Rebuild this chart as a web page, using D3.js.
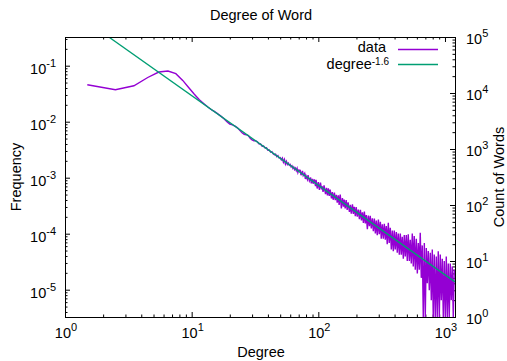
<!DOCTYPE html>
<html>
<head>
<meta charset="utf-8">
<script src="https://cdnjs.cloudflare.com/ajax/libs/d3/7.8.5/d3.min.js"></script>
<style>
  body { margin: 0; background: #fff; }
  svg { display: block; font-family: "Liberation Sans", Arial, sans-serif; }
</style>
</head>
<body>
<div id="chart"></div>
<script>
// word count that corresponds to frequency 1 (left axis = right axis / total)
const TOTAL_WORDS = 307250;
// fitted power law: frequency = FIT_COEF * degree ^ FIT_POW
const FIT_COEF = 1.164;
const FIT_POW = -1.6;

const headDegree = [1.5, 2.5, 3.5, 4.5, 5.5, 6.5, 7.5, 8.5, 9.5, 10.5, 11.5, 12.5, 13.5, 14.5,
  15, 16, 17, 18, 19, 20, 21, 22, 23, 24, 25, 26, 27, 28, 29, 30, 31, 32, 33, 34,
  35, 36, 37, 38, 39, 40, 41, 42, 43, 44, 45, 46, 47, 48, 49, 50, 51, 52, 53, 54,
  55, 56, 57, 58, 59, 60, 61, 62, 63, 64, 65, 66, 67, 68, 69, 70];
const headCount = [14060, 11460, 13480, 18920, 23710, 24720, 22130, 16790, 12390, 9520, 7590, 6440, 5570, 4930,
  4750, 4290, 3860, 3460, 3080, 2780, 2700, 2560, 2390, 2150, 1950, 1830, 1800, 1740, 1560, 1450, 1400, 1410, 1350, 1240,
  1230, 1120, 1130, 1040, 1050, 950, 960, 880, 900, 820, 790, 810, 730, 760, 690, 700, 640, 690, 580, 650,
  540, 600, 530, 560, 510, 530, 480, 500, 450, 475, 430, 455, 410, 450, 380, 420];

// noisy tail, highs and lows read column by column
const tailDegree = [72, 73, 75, 76, 78, 79, 80, 82, 83, 85, 87, 88, 90, 91, 93,
  95, 96, 98, 100, 102, 104, 106, 107, 109, 111, 114, 116, 118, 120, 122,
  124, 127, 129, 131, 134, 136, 139, 141, 144, 146, 149, 152, 155, 158, 160,
  163, 166, 169, 172, 176, 179, 182, 186, 189, 192, 196, 199, 203, 207, 211,
  215, 219, 223, 227, 231, 235, 239, 244, 248, 253, 257, 262, 267, 272, 277,
  282, 287, 292, 298, 303, 309, 314, 320, 326, 332, 338, 344, 350, 357, 363,
  370, 377, 384, 391, 398, 405, 413, 420, 428, 436, 444, 452, 460, 469, 477, 486, 495, 504, 513, 523,
  532, 542, 552, 562, 572, 583, 594, 605, 616, 627, 638, 650, 662, 674, 687,
  699, 712, 725, 738, 752, 766, 780, 794, 808, 823, 838, 854, 869, 885, 902,
  918, 935, 952, 970, 987, 1006, 1024, 1043, 1062, 1081, 1101, 1121, 1142, 1163, 1184];
const tailCount = [414, 341, 406, 335, 368, 291, 333, 286, 341, 270, 309, 244, 292, 240, 287,
  218, 282, 197, 256, 186, 251, 190, 218, 172, 224, 157, 203, 148, 199, 145,
  188, 131, 170, 124, 167, 122, 152, 110, 149, 100, 153, 87, 133, 93, 125,
  87, 123, 82, 111, 75, 101, 70, 103, 69, 93, 63, 92, 62, 83, 56,
  82, 53, 74, 48, 76, 47, 66, 37, 65, 42, 64, 38, 58, 34, 57,
  31, 53, 29, 55, 30, 50, 25, 45, 25, 46, 24, 42, 20, 48, 21,
  39, 16, 35, 15, 35, 16, 33, 14, 31, 13, 31, 13, 27, 11, 29, 12, 29, 10, 30, 10,
  24, 9, 31, 8, 28, 7, 25, 6, 21, 7, 32, 5, 19, 1, 21,
  1, 17, 4, 15, 3, 14, 2, 16, 1, 13, 1, 12, 1, 15, 1,
  13, 2, 11, 1, 10, 1, 12, 1, 9, 1, 9, 2, 8, 1, 7];

const xTickValues = [1, 10, 100, 1000];
const yTickValues = [1e-1, 1e-2, 1e-3, 1e-4, 1e-5];
const y2TickValues = [1, 10, 100, 1000, 10000, 100000];

const width = 507, height = 361;
const margin = { top: 37, right: 52, bottom: 44, left: 65 };
const plotLeft = margin.left, plotRight = width - margin.right;
const plotTop = margin.top, plotBottom = height - margin.bottom;
const FONT = 14.5, SUP = 11;

const svg = d3.select('#chart').append('svg')
  .attr('width', width)
  .attr('height', height);

const x = d3.scaleLog().domain([1, 1200]).range([plotLeft, plotRight]);
const y2 = d3.scaleLog().domain([1, 1e5]).range([plotBottom, plotTop]);
const y = d3.scaleLog().domain([1 / TOTAL_WORDS, 1e5 / TOTAL_WORDS]).range([plotBottom, plotTop]);

const isPow10 = v => Math.abs(Math.log10(v) - Math.round(Math.log10(v))) < 1e-6;

svg.append('clipPath').attr('id', 'plot-clip')
  .append('rect')
  .attr('x', plotLeft).attr('y', plotTop)
  .attr('width', plotRight - plotLeft + 1).attr('height', plotBottom - plotTop + 1);

// ticks (gnuplot style: pointing inward, minor ticks shorter)
function ticks(axisFn, scale, major, transform) {
  const minor = scale.ticks().filter(v => !isPow10(v));
  svg.append('g').attr('transform', transform)
    .call(axisFn(scale).tickValues(major).tickSize(-5).tickFormat(''))
    .call(g => g.select('.domain').remove());
  svg.append('g').attr('transform', transform)
    .call(axisFn(scale).tickValues(minor).tickSize(-2.5).tickFormat(''))
    .call(g => g.select('.domain').remove());
}
ticks(d3.axisBottom, x, xTickValues, `translate(0,${plotBottom})`);
ticks(d3.axisTop, x, xTickValues, `translate(0,${plotTop})`);
ticks(d3.axisLeft, y, yTickValues, `translate(${plotLeft},0)`);
ticks(d3.axisRight, y2, y2TickValues, `translate(${plotRight},0)`);
svg.selectAll('.tick line').attr('stroke', '#000');

// data
const data = headDegree.map((d, i) => ({ degree: d, count: headCount[i] }))
  .concat(tailDegree.map((d, i) => ({ degree: d, count: tailCount[i] })));

const plot = svg.append('g').attr('clip-path', 'url(#plot-clip)');

plot.append('path')
  .datum(data)
  .attr('fill', 'none')
  .attr('stroke', '#9400d3')
  .attr('stroke-width', 1.4)
  .attr('stroke-linejoin', 'miter')
  .attr('d', d3.line().x(d => x(d.degree)).y(d => y(d.count / TOTAL_WORDS)));

plot.append('path')
  .datum(x.domain())
  .attr('fill', 'none')
  .attr('stroke', '#009e73')
  .attr('stroke-width', 1.3)
  .attr('d', d3.line().x(d => x(d)).y(d => y(FIT_COEF * Math.pow(d, FIT_POW))));

// border
svg.append('rect')
  .attr('x', plotLeft + 0.5).attr('y', plotTop + 0.5)
  .attr('width', plotRight - plotLeft).attr('height', plotBottom - plotTop)
  .attr('fill', 'none')
  .attr('stroke', '#000')
  .attr('stroke-width', 1);

// tick labels as 10^n
function powLabel(v, px, py, anchor) {
  const t = svg.append('text')
    .attr('x', px).attr('y', py)
    .attr('text-anchor', anchor)
    .attr('font-size', FONT);
  t.append('tspan').text('10');
  t.append('tspan').attr('dy', -7).attr('font-size', SUP).text(Math.round(Math.log10(v)));
}
xTickValues.forEach(v => powLabel(v, x(v) + 1, plotBottom + 21, 'middle'));
yTickValues.forEach(v => powLabel(v, plotLeft - 9, y(v) + 8, 'end'));
y2TickValues.forEach(v => powLabel(v, plotRight + 11, y2(v) + 7, 'start'));

// titles
svg.append('text')
  .attr('x', (plotLeft + plotRight) / 2 + 1).attr('y', 20)
  .attr('text-anchor', 'middle').attr('font-size', FONT)
  .text('Degree of Word');

svg.append('text')
  .attr('x', (plotLeft + plotRight) / 2 + 1).attr('y', 357)
  .attr('text-anchor', 'middle').attr('font-size', FONT)
  .text('Degree');

svg.append('text')
  .attr('transform', `translate(21,${(plotTop + plotBottom) / 2}) rotate(-90)`)
  .attr('text-anchor', 'middle').attr('font-size', FONT)
  .text('Frequency');

svg.append('text')
  .attr('transform', `translate(504,${(plotTop + plotBottom) / 2}) rotate(-90)`)
  .attr('text-anchor', 'middle').attr('font-size', FONT)
  .text('Count of Words');

// legend
const legend = svg.append('g');
legend.append('text')
  .attr('x', 386).attr('y', 52)
  .attr('text-anchor', 'end').attr('font-size', FONT)
  .text('data');
legend.append('line')
  .attr('x1', 398).attr('x2', 438).attr('y1', 49.5).attr('y2', 49.5)
  .attr('stroke', '#9400d3').attr('stroke-width', 1.4);

const fitLabel = legend.append('text')
  .attr('x', 389).attr('y', 69)
  .attr('text-anchor', 'end').attr('font-size', FONT);
fitLabel.append('tspan').text('degree');
fitLabel.append('tspan').attr('dy', -4).attr('font-size', 10).text(FIT_POW);
legend.append('line')
  .attr('x1', 398).attr('x2', 438).attr('y1', 64.5).attr('y2', 64.5)
  .attr('stroke', '#009e73').attr('stroke-width', 1.3);
</script>
</body>
</html>
